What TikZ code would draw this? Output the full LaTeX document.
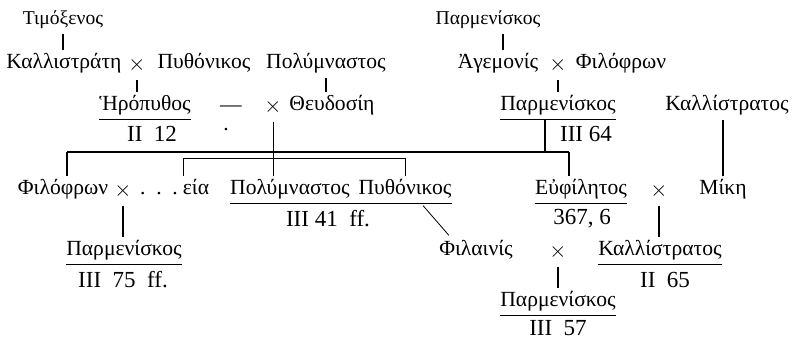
\documentclass[tikz,border=0pt]{standalone}
\usepackage{fontspec}
\setmainfont{Liberation Serif}
\usetikzlibrary{calc,positioning}
\newcommand{\undl}[2]{\draw[uline] (#1.south west) -- (#2.south east);}
\tikzset{
  nm/.style={inner xsep=0pt,inner ysep=1.5pt,text height=7.5pt,text depth=2.7pt},
  sm/.style={nm,font=\fontsize{9.8}{11}\selectfont},
  rf/.style={inner sep=0pt,font=\fontsize{11.5}{13}\selectfont},
  mar/.style={inner sep=0pt},
  desc/.style={line width=1.1pt},
  fine/.style={line width=0.4pt},
  uline/.style={line width=0.45pt}
}

\begin{document}
\begin{tikzpicture}[x=0.5pt,y=-0.5pt,font=\fontsize{10.8}{13}\selectfont]
  \useasboundingbox (0,0) rectangle (792,338);

  \node[sm] (tim) at (63,20) {Τιμόξενος};
  \node[sm] (parA) at (488,20) {Παρμενίσκος};

  \node[nm] (kal) at (64,64) {Καλλιστράτη};
  \node[nm] (xB1) at (137,66) {$\times$};
  \node[nm] (pyt) at (204,64) {Πυθόνικος};
  \node[nm] (polA) at (326,64) {Πολύμναστος};
  \node[nm] (age) at (498,64) {Ἀγεμονίς};
  \node[nm] (xB2) at (558,66) {$\times$};
  \node[nm] (phiA) at (621,64) {Φιλόφρων};

  \node[nm] (hero) at (145,106) {Ἡρόπυθος};
  \node[mar] (dash) at (231,109) {---};
  \node[mar] (dot) at (226,130) {.};
  \node[nm] (xC) at (273,108) {$\times$};
  \node[nm] (theu) at (332,106) {Θευδοσίη};
  \node[nm] (parC) at (558,106) {Παρμενίσκος};
  \node[nm] (kalC) at (727,106) {Καλλίστρατος};
  \node[rf] (ref12) at (152,134) {II\enspace12};
  \node[rf] (ref64) at (586,134) {III 64};

  \coordinate (lineL) at (67,152);
  \coordinate (lineR) at (569,152);
  \coordinate (tick) at (545,152);
  \coordinate (brL) at (183,158);
  \coordinate (brR) at (405,158);

  \node[nm] (phiD) at (63,190) {Φιλόφρων};
  \node[nm] (xD1) at (123,192) {$\times$};
  \node[nm] (dots) at (159,190) {.\ \ .\ \ .};
  \node[nm] (eia) at (196,190) {εία};
  \node[nm] (polD) at (290,190) {Πολύμναστος};
  \node[nm] (pytD) at (405,190) {Πυθόνικος};
  \node[nm] (euph) at (581,190) {Εὐφίλητος};
  \node[nm] (xD2) at (659,192) {$\times$};
  \node[nm] (mik) at (723,190) {Μίκη};
  \node[rf] (ref41) at (328,219) {III 41\enspace ff.};
  \node[rf] (ref367) at (582,219) {367, 6};

  \node[nm] (parE) at (124,251) {Παρμενίσκος};
  \node[nm] (phil) at (476,251) {Φιλαινίς};
  \node[nm] (xE) at (558,253) {$\times$};
  \node[nm] (kalE) at (660,251) {Καλλίστρατος};
  \node[rf] (ref75) at (123,280) {III\enspace75\enspace ff.};
  \node[rf] (ref65) at (665,280) {II\enspace65};

  \node[nm] (parF) at (558,302) {Παρμενίσκος};
  \node[rf] (ref57) at (558,328) {III\enspace57};

  \draw[desc] (tim.south) -- (tim.south |- kal.north);
  \draw[desc] (age.north) ++(5,0) coordinate (ageT) -- (ageT |- parA.south);
  \draw[desc] (xB1.south) -- (xB1.south |- hero.north);
  \draw[desc] (polA.south) -- (polA.south |- theu.north);
  \draw[desc] (xB2.south) -- (xB2.south |- parC.north);
  \draw[desc] (mik.north) -- (mik.north |- kalC.south);

  \draw[desc] (lineL) -- (lineR);
  \draw[desc] (lineL) -- (lineL |- phiD.north);
  \draw[desc] (lineR) -- (lineR |- euph.north);
  \draw[desc] (tick) -- (tick |- parC.south);

  \draw[fine] (xC.south) -- (xC.south |- polD.north);
  \draw[fine] (brL |- eia.north) -- (brL) -- (brR) -- (brR |- pytD.north);

  \draw[desc] (xD1.south) -- (xD1.south |- parE.north);
  \draw[desc] (xD2.south) -- (xD2.south |- kalE.north);
  \draw[desc] (xE.south) -- (xE.south |- parF.north);
  \draw[fine] ($(pytD.south)+(18,2)$) -- ($(phil.north west)+(10,-2)$);

  \undl{hero}{hero}
  \undl{parC}{parC}
  \undl{polD}{pytD}
  \undl{euph}{euph}
  \undl{parE}{parE}
  \undl{kalE}{kalE}
  \undl{parF}{parF}
\end{tikzpicture}
\end{document}
